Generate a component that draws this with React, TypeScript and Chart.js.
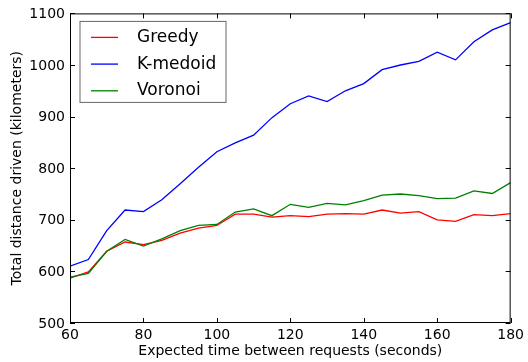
import React, { useEffect, useRef } from "react";
import { Chart, registerables } from "chart.js";

Chart.register(...registerables);

const xValues = [60, 65, 70, 75, 80, 85, 90, 95, 100, 105, 110, 115, 120, 125, 130, 135, 140, 145, 150, 155, 160, 165, 170, 175, 180];
const greedy = [587, 599, 639, 657, 652, 660, 674, 684, 689, 711, 711, 705, 708, 706, 711, 712, 711, 719, 713, 716, 700, 697, 710, 708, 712];
const kmedoid = [610, 623, 679, 719, 716, 739, 770, 802, 832, 849, 864, 898, 925, 940, 929, 950, 964, 991, 1000, 1007, 1025, 1010, 1045, 1068, 1082];
const voronoi = [589, 596, 639, 662, 649, 663, 679, 689, 691, 715, 721, 708, 730, 724, 732, 729, 737, 748, 750, 747, 741, 742, 756, 751, 772];

const seriesNames = ["Greedy", "K-medoid", "Voronoi"];
const seriesColors = ["#ff0000", "#0000ff", "#008000"];
const seriesValues = [greedy, kmedoid, voronoi];

const xTicks = [60, 80, 100, 120, 140, 160, 180];
const yTicks = [500, 600, 700, 800, 900, 1000, 1100];

const xTitle = "Expected time between requests (seconds)";
const yTitle = "Total distance driven (kilometers)";

const FONT = "'DejaVu Sans', sans-serif";

const framePlugin = {
  id: "mplFrame",
  afterDraw(chart: any) {
    const { ctx, chartArea: a, scales } = chart;
    const xs = scales.x;
    const ys = scales.y;
    ctx.save();
    ctx.strokeStyle = "#000";
    ctx.lineWidth = 1;
    const L = 5;
    ctx.beginPath();
    for (const v of xTicks) {
      const px = Math.round(xs.getPixelForValue(v)) + 0.5;
      ctx.moveTo(px, a.bottom);
      ctx.lineTo(px, a.bottom - L);
      ctx.moveTo(px, a.top);
      ctx.lineTo(px, a.top + L);
    }
    for (const v of yTicks) {
      const py = Math.round(ys.getPixelForValue(v)) + 0.5;
      ctx.moveTo(a.left, py);
      ctx.lineTo(a.left + L, py);
      ctx.moveTo(a.right, py);
      ctx.lineTo(a.right - L, py);
    }
    ctx.stroke();
    ctx.strokeRect(a.left + 0.5, a.top + 0.5, a.right - a.left - 1, a.bottom - a.top - 1);

    // legend
    const bx = a.left + 10;
    const by = a.top + 8;
    const bw = 146;
    const bh = 81;
    ctx.fillStyle = "#fff";
    ctx.fillRect(bx, by, bw, bh);
    ctx.strokeStyle = "#666";
    ctx.lineWidth = 1;
    ctx.strokeRect(bx, by, bw, bh);
    ctx.font = `17px ${FONT}`;
    ctx.textBaseline = "middle";
    ctx.textAlign = "left";
    seriesNames.forEach((name, i) => {
      const ry = by + 16 + i * 26.7;
      ctx.strokeStyle = seriesColors[i];
      ctx.lineWidth = 1.3;
      ctx.beginPath();
      ctx.moveTo(bx + 11, ry);
      ctx.lineTo(bx + 38, ry);
      ctx.stroke();
      ctx.fillStyle = "#000";
      ctx.fillText(name, bx + 57, ry);
    });
    ctx.restore();
  },
};

export default function App() {
  const ref = useRef<HTMLCanvasElement | null>(null);
  useEffect(() => {
    if (!ref.current) return;
    Chart.defaults.color = "#000";
    Chart.defaults.font.family = FONT;
    const datasets = seriesNames.map((name, i) => ({
      label: name,
      data: xValues.map((x, j) => ({ x, y: seriesValues[i][j] })),
      borderColor: seriesColors[i],
      backgroundColor: seriesColors[i],
      borderWidth: 1.3,
      pointRadius: 0,
      tension: 0,
      fill: false,
      order: seriesNames.length - i,
    }));
    const chart = new Chart(ref.current, {
      type: "line",
      data: { datasets },
      options: {
        animation: false,
        responsive: false,
        devicePixelRatio: 1,
        layout: { padding: { left: 0, right: 15, top: 10, bottom: 0 } },
        plugins: { legend: { display: false }, tooltip: { enabled: false } },
        scales: {
          x: {
            type: "linear",
            min: 60,
            max: 180,
            grid: { display: false, drawTicks: false },
            border: { display: false },
            ticks: { stepSize: 20, padding: 4, autoSkip: false, maxRotation: 0, font: { size: 14, family: FONT }, color: "#000", callback: (v: any) => String(v) },
            title: { display: true, text: xTitle, font: { size: 14, family: FONT }, color: "#000", padding: { top: 0, bottom: 2 } },
            afterFit: (s: any) => { s.height = 39; },
          },
          y: {
            type: "linear",
            min: 500,
            max: 1100,
            grid: { display: false, drawTicks: false },
            border: { display: false },
            ticks: { stepSize: 100, padding: 5, autoSkip: false, labelOffset: 1, font: { size: 14, family: FONT }, color: "#000", callback: (v: any) => String(v) },
            title: { display: true, text: yTitle, font: { size: 14, family: FONT }, color: "#000", padding: { top: 9, bottom: 0 } },
            afterFit: (s: any) => { s.width = 70; },
          },
        },
      },
      plugins: [framePlugin],
    });
    return () => chart.destroy();
  }, []);
  return (
    <div style={{ position: "absolute", left: 0, top: 0, width: 528, height: 362, background: "#fff" }}>
      <canvas ref={ref} width={528} height={362} />
    </div>
  );
}
